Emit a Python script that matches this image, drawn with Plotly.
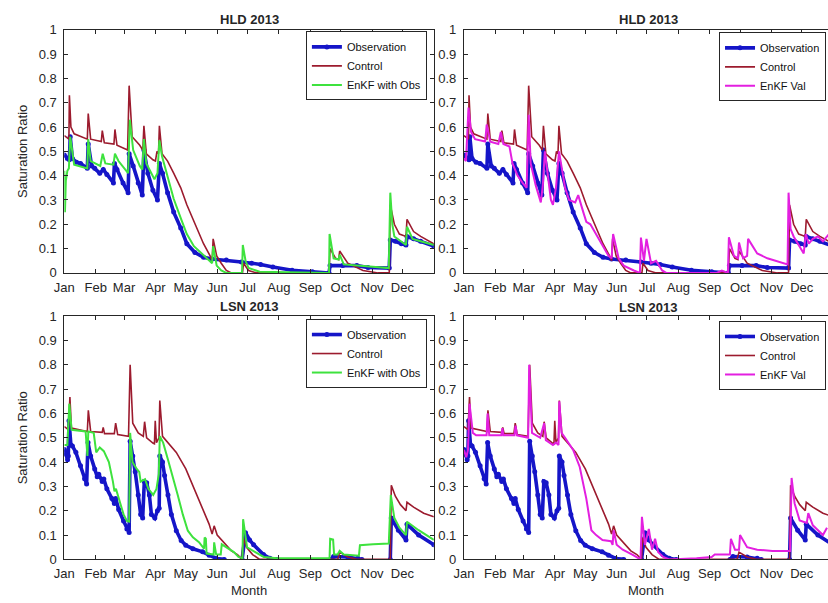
import plotly.graph_objects as go

# ---------------- axis labels ----------------
MONTHS = ["Jan", "Feb", "Mar", "Apr", "May", "Jun", "Jul", "Aug", "Sep", "Oct", "Nov", "Dec"]
MONTH_START_DAY = [0, 31, 59, 90, 120, 151, 181, 212, 243, 273, 304, 334]
Y_TICKS = [0, 0.1, 0.2, 0.3, 0.4, 0.5, 0.6, 0.7, 0.8, 0.9, 1]
Y_TICK_TEXT = ["0", "0.1", "0.2", "0.3", "0.4", "0.5", "0.6", "0.7", "0.8", "0.9", "1"]
PANEL_TITLES = ["HLD 2013", "HLD 2013", "LSN 2013", "LSN 2013"]

# ---------------- data: (day of year, saturation ratio) ----------------
HLD_OBS = [(0,0.485),(3,0.47),(5,0.465),(5.8,0.56),(8,0.47),(12,0.455),(16,0.45),(22.7,0.43),(23.6,0.53),
           (27,0.44),(30,0.43),(35,0.41),(38.5,0.425),(42,0.405),(48.5,0.37),(49.5,0.45),(52,0.425),
           (58,0.37),(63,0.33),(64,0.49),(68,0.44),(73,0.37),(77,0.32),(78.6,0.505),(82.5,0.41),
           (87.5,0.34),(92,0.30),(93.9,0.45),(97,0.41),(102,0.33),(108,0.25),(115,0.185),(121,0.12),
           (129,0.084),(137.5,0.064),(146,0.057),(160,0.053),(175,0.045),(185,0.04),(194,0.035),
           (206,0.024),(225,0.011),(245,0.005),(261.5,0.0),(262.5,0.03),(275,0.03),(289,0.03),
           (300,0.022),(321,0.02),(322,0.135),(327,0.13),(333,0.12),(337.5,0.115),(338.5,0.15),
           (345,0.14),(352,0.13),(365,0.11)]

HLD_CTL = [(0,0.565),(4.5,0.55),(5,0.73),(6.5,0.60),(9.7,0.572),(22.7,0.55),(23.6,0.655),(26,0.55),
           (36.5,0.54),(37.5,0.585),(39.5,0.535),(49,0.53),(50,0.59),(52,0.525),(62.5,0.505),(64,0.77),
           (67,0.56),(74.5,0.525),(77.5,0.505),(78.6,0.605),(81,0.49),(87.5,0.465),(90,0.46),
           (91.5,0.50),(93,0.49),(93.9,0.605),(96.5,0.49),(102,0.46),(108,0.41),(115,0.35),(121,0.28),
           (128,0.21),(131,0.18),(137.5,0.12),(144,0.07),(146,0.05),(147,0.14),(150.5,0.07),(155,0.04),
           (160,0.01),(165,0.0),(176,0.0),(177,0.04),(182,0.01),(190,0.0),(261.5,0.0),(262.5,0.10),
           (268,0.06),(271,0.055),(272,0.09),(280,0.04),(295,0.01),(310,0.0),(321,0.0),(322,0.28),
           (326,0.20),(331,0.16),(337.5,0.15),(338.5,0.22),(345,0.17),(352,0.15),(365,0.12)]

HLD_ENKF_OBS = [(0,0.42),(0.6,0.25),(1.5,0.38),(3,0.42),(4.5,0.43),(5.8,0.56),(9.7,0.445),(22.7,0.43),
                (23.6,0.55),(26,0.46),(35.5,0.44),(37.9,0.49),(40.5,0.45),(48.5,0.445),(50,0.49),
                (53.5,0.46),(63,0.41),(64.7,0.63),(68,0.505),(74.5,0.44),(77,0.425),(78.6,0.55),
                (81,0.45),(89,0.385),(92,0.41),(93.9,0.545),(96.5,0.48),(102,0.40),(108,0.305),
                (115,0.225),(121,0.16),(128,0.11),(136,0.078),(144,0.044),(146,0.04),(147,0.11),
                (150.5,0.03),(155,0.01),(160,0.0),(175.5,0.0),(176.3,0.115),(179,0.05),(182,0.02),
                (193,0.005),(261.5,0.0),(262,0.16),(266,0.06),(271,0.055),(272,0.075),(276,0.035),
                (290,0.03),(300,0.025),(320.5,0.02),(322,0.33),(324,0.2),(326,0.15),(334,0.125),
                (337.5,0.115),(338.5,0.19),(344,0.14),(352,0.13),(365,0.115)]

HLD_ENKF_VAL = [(0,0.47),(2,0.46),(4.5,0.68),(7,0.58),(11,0.55),(21,0.54),(22.5,0.61),(26,0.54),
                (34,0.53),(36.5,0.58),(39,0.53),(45,0.52),(48,0.45),(53,0.40),(58,0.37),(62,0.35),
                (64,0.65),(66,0.45),(71,0.36),(76,0.29),(78,0.36),(80,0.50),(86,0.30),(88,0.28),
                (91,0.35),(94,0.50),(100,0.35),(104,0.30),(110,0.29),(113,0.32),(118,0.25),(121,0.21),
                (125,0.20),(136,0.12),(143,0.07),(146,0.06),(147.5,0.16),(153,0.06),(158,0.03),
                (168,0.01),(174,0.0),(175,0.145),(178,0.05),(180.5,0.14),(185,0.04),(190,0.05),
                (196,0.01),(200,0.0),(250,0.0),(255,0.01),(261,0.0),(262,0.147),(267,0.07),(271,0.06),
                (272,0.125),(276,0.06),(280,0.07),(281,0.14),(290,0.08),(300,0.06),(309,0.05),
                (320,0.035),(321,0.33),(323,0.18),(326,0.15),(330,0.12),(334,0.09),(336,0.08),
                (338,0.16),(341,0.12),(345,0.14),(350,0.15),(355,0.13),(361,0.16)]

LSN_OBS = [(0,0.452),(1.6,0.432),(3.2,0.41),(3.9,0.425),(4.6,0.57),(6.5,0.47),(8,0.466),(11.4,0.44),
           (16,0.385),(20,0.332),(22,0.31),(23.4,0.48),(26,0.425),(30,0.372),(32.5,0.34),(34,0.35),
           (37.4,0.32),(39,0.33),(42,0.29),(47,0.25),(49.4,0.23),(50.7,0.25),(53.7,0.205),(58.5,0.158),
           (61.8,0.125),(64,0.111),(65,0.486),(67.6,0.425),(70,0.36),(73,0.265),(75.4,0.185),
           (77.4,0.17),(79,0.32),(81.3,0.315),(84,0.265),(86,0.185),(89.4,0.17),(92,0.20),(93.7,0.21),
           (94.3,0.425),(97,0.40),(99,0.345),(102.4,0.265),(105.7,0.185),(110.6,0.118),(115.4,0.078),
           (120,0.058),(127,0.044),(136.6,0.031),(143,0.017),(150,0.004),(158,0.0),(158.5,None),
           (175,None),(175.6,0.0),(179,0.11),(183,0.08),(187,0.06),(196.7,0.02),(203,0.005),(210,0.0),
           (211,None),(262,None),(263,0.0),(266,0.012),(280,0.01),(290,0.005),(294,0.0),(295,None),
           (321,None),(322,0.0),(323,0.17),(330,0.12),(337.5,0.08),(338.5,0.145),(350,0.10),(365,0.06)]

LSN_CTL = [(0,0.546),(4,0.533),(5.5,0.667),(7,0.54),(22.7,0.526),(23.7,0.613),(26,0.526),(37.4,0.522),
           (38.4,0.543),(39.7,0.517),(49.4,0.517),(50.7,0.56),(52.7,0.513),(63.4,0.506),(65,0.80),
           (67.6,0.56),(73,0.52),(78,0.506),(79.3,0.566),(81.3,0.50),(87.8,0.477),(89,0.475),
           (89.8,0.57),(91,0.48),(93.5,0.50),(94.3,0.653),(97,0.506),(104,0.473),(110.6,0.44),
           (120,0.372),(128.5,0.29),(136.6,0.21),(143,0.145),(146,0.104),(148,0.138),(151,0.10),
           (156,0.078),(160,0.06),(165,0.035),(171,0.02),(175.6,0.0),(176.6,0.09),(180,0.05),
           (186,0.02),(193,0.0),(270,0.0),(272,0.03),(280,0.01),(290,0.0),(322,0.0),(323,0.305),
           (327,0.26),(332,0.225),(337.5,0.20),(338.5,0.235),(345,0.215),(355,0.19),(365,0.175)]

LSN_ENKF_OBS = [(0,0.47),(3,0.47),(4.9,0.64),(7.2,0.533),(21,0.526),(22,0.48),(22.8,0.425),(23.7,0.526),
                (29,0.52),(31.5,0.44),(35,0.46),(39,0.445),(44,0.40),(48,0.32),(49.5,0.28),(51,0.29),
                (53.7,0.25),(58.5,0.185),(61.8,0.158),(64,0.155),(65,0.52),(67.3,0.40),(71.5,0.372),
                (74,0.36),(75.4,0.32),(79.7,0.33),(83,0.29),(87.8,0.265),(91,0.29),(93.3,0.35),
                (94.3,0.506),(97.6,0.48),(102.4,0.41),(107,0.345),(112,0.265),(117,0.185),(122,0.118),
                (127,0.091),(133,0.071),(138,0.044),(138.6,0.09),(139.8,0.085),(140.5,0.024),
                (147.5,0.02),(148,0.07),(150,0.02),(154.5,0.02),(155.5,0.062),(164,0.04),(167.5,0.03),
                (172,0.01),(176,0.005),(176.6,0.165),(180.5,0.05),(188.6,0.03),(197,0.01),(210,0.005),
                (262,0.005),(262.6,0.085),(265.5,0.082),(266.5,0.02),(270,0.02),(272,0.035),(276,0.02),
                (291,0.015),(292,0.058),(305,0.062),(320.5,0.065),(322.5,0.265),(326,0.17),(331,0.13),
                (337.5,0.10),(338.5,0.155),(350,0.12),(365,0.08)]

LSN_ENKF_VAL = [(0,0.45),(2.3,0.42),(4,0.45),(5.5,0.64),(8.8,0.52),(12,0.51),(22.4,0.51),(23.4,0.60),
                (25,0.51),(37,0.51),(38,0.54),(39,0.51),(50,0.51),(51,0.55),(52.5,0.51),(63.5,0.50),
                (64.5,0.80),(67.3,0.52),(75.4,0.50),(79.3,0.56),(81,0.49),(88,0.47),(91,0.48),
                (93.5,0.47),(94.3,0.65),(96.5,0.52),(100,0.50),(108,0.45),(114.5,0.38),(121,0.25),
                (126,0.12),(130.7,0.10),(137,0.08),(145.4,0.075),(147,0.06),(148,0.12),(151,0.06),
                (157,0.04),(166.5,0.02),(174.6,0.0),(176,0.175),(179,0.06),(182.8,0.125),(186,0.04),
                (189,0.085),(192,0.03),(197,0.01),(203,0.0),(230,0.005),(245,0.01),(248,0.02),(263,0.02),
                (264,0.085),(268,0.04),(272,0.04),(273,0.10),(280,0.05),(290,0.04),(305,0.035),
                (322.6,0.035),(324,0.335),(327,0.23),(332,0.16),(339,0.15),(340.5,0.19),(345,0.14),
                (355,0.10),(359,0.13)]

# ---------------- styles ----------------
C_OBS = "#1515c8"
C_CTL = "#9c1b2e"
C_ENKF_OBS = "#3ee23e"
C_ENKF_VAL = "#e31fe0"
INK = "#262626"
FONT = "Arial, Liberation Sans, Helvetica, sans-serif"

W, H = 828, 603
def px_x(p):
    return p / W
def px_y(p):
    return 1 - p / H

fig = go.Figure()

panels = [
    ("x", "y", "legend", HLD_OBS, HLD_CTL, HLD_ENKF_OBS, "EnKF with Obs", C_ENKF_OBS),
    ("x2", "y2", "legend2", HLD_OBS, HLD_CTL, HLD_ENKF_VAL, "EnKF Val", C_ENKF_VAL),
    ("x3", "y3", "legend3", LSN_OBS, LSN_CTL, LSN_ENKF_OBS, "EnKF with Obs", C_ENKF_OBS),
    ("x4", "y4", "legend4", LSN_OBS, LSN_CTL, LSN_ENKF_VAL, "EnKF Val", C_ENKF_VAL),
]

def unzip(pairs):
    return [p[0] for p in pairs], [p[1] for p in pairs]

for xa, ya, lg, obs, ctl, enkf, ename, ecol in panels:
    x, y = unzip(obs)
    fig.add_trace(go.Scatter(x=x, y=y, name="Observation", mode="lines+markers",
                             line=dict(color=C_OBS, width=3.6), marker=dict(size=5, color=C_OBS),
                             xaxis=xa, yaxis=ya, legend=lg, connectgaps=False))
    x, y = unzip(ctl)
    fig.add_trace(go.Scatter(x=x, y=y, name="Control", mode="lines",
                             line=dict(color=C_CTL, width=1.6),
                             xaxis=xa, yaxis=ya, legend=lg))
    x, y = unzip(enkf)
    fig.add_trace(go.Scatter(x=x, y=y, name=ename, mode="lines",
                             line=dict(color=ecol, width=2),
                             xaxis=xa, yaxis=ya, legend=lg))

LEFT = [px_x(55), px_x(429)]
RIGHT = [px_x(459.5), 1.0]
TOP = [px_y(272.7), px_y(23.3)]
BOTTOM = [px_y(566.5), px_y(317)]

def xaxis_cfg(domain, anchor, rng, title=None):
    d = dict(domain=domain, anchor=anchor, range=rng, tickmode="array",
             tickvals=MONTH_START_DAY, ticktext=MONTHS, ticks="inside", ticklen=4,
             tickcolor=INK, showline=True, linecolor=INK, linewidth=1, mirror="ticks",
             showgrid=False, zeroline=False, ticklabelstandoff=2,
             tickfont=dict(family=FONT, size=13, color=INK))
    if title:
        d["title"] = dict(text=title, font=dict(family=FONT, size=13, color=INK), standoff=5)
    return d

def yaxis_cfg(domain, anchor, mirror, title=None):
    d = dict(domain=domain, anchor=anchor, range=[0, 1], tickmode="array",
             tickvals=Y_TICKS, ticktext=Y_TICK_TEXT, ticks="inside", ticklen=4,
             tickcolor=INK, showline=True, linecolor=INK, linewidth=1, mirror=mirror,
             showgrid=False, zeroline=False, ticklabelstandoff=4,
             tickfont=dict(family=FONT, size=13, color=INK))
    if title:
        d["title"] = dict(text=title, font=dict(family=FONT, size=13, color=INK), standoff=8)
    return d

def legend_cfg(right_px, top_px):
    return dict(x=px_x(right_px), y=px_y(top_px), xanchor="right", yanchor="top",
                bgcolor="white", bordercolor=INK, borderwidth=1,
                font=dict(family=FONT, size=11, color="#111"), itemwidth=30,
                tracegroupgap=0)

fig.update_layout(
    width=W, height=H, margin=dict(l=0, r=0, t=0, b=0),
    paper_bgcolor="white", plot_bgcolor="white", showlegend=True,
    xaxis=xaxis_cfg(LEFT, "y", [0, 365]),
    yaxis=yaxis_cfg(TOP, "x", "ticks", "Saturation Ratio"),
    xaxis2=xaxis_cfg(RIGHT, "y2", [0, 360]),
    yaxis2=yaxis_cfg(TOP, "x2", False),
    xaxis3=xaxis_cfg(LEFT, "y3", [0, 365], "Month"),
    yaxis3=yaxis_cfg(BOTTOM, "x3", "ticks", "Saturation Ratio"),
    xaxis4=xaxis_cfg(RIGHT, "y4", [0, 360], "Month"),
    yaxis4=yaxis_cfg(BOTTOM, "x4", False),
    legend=legend_cfg(422, 25),
    legend2=legend_cfg(826, 26),
    legend3=legend_cfg(422, 320),
    legend4=legend_cfg(826, 322),
)

title_pos = [(242, 13), (646, 13), (242, 307), (646, 308)]
for (cx, cy), t in zip(title_pos, PANEL_TITLES):
    fig.add_annotation(x=px_x(cx), y=px_y(cy), xref="paper", yref="paper", text="<b>" + t + "</b>",
                       showarrow=False, xanchor="center", yanchor="middle",
                       font=dict(family=FONT, size=13, color=INK))

fig.write_html("out.html")
